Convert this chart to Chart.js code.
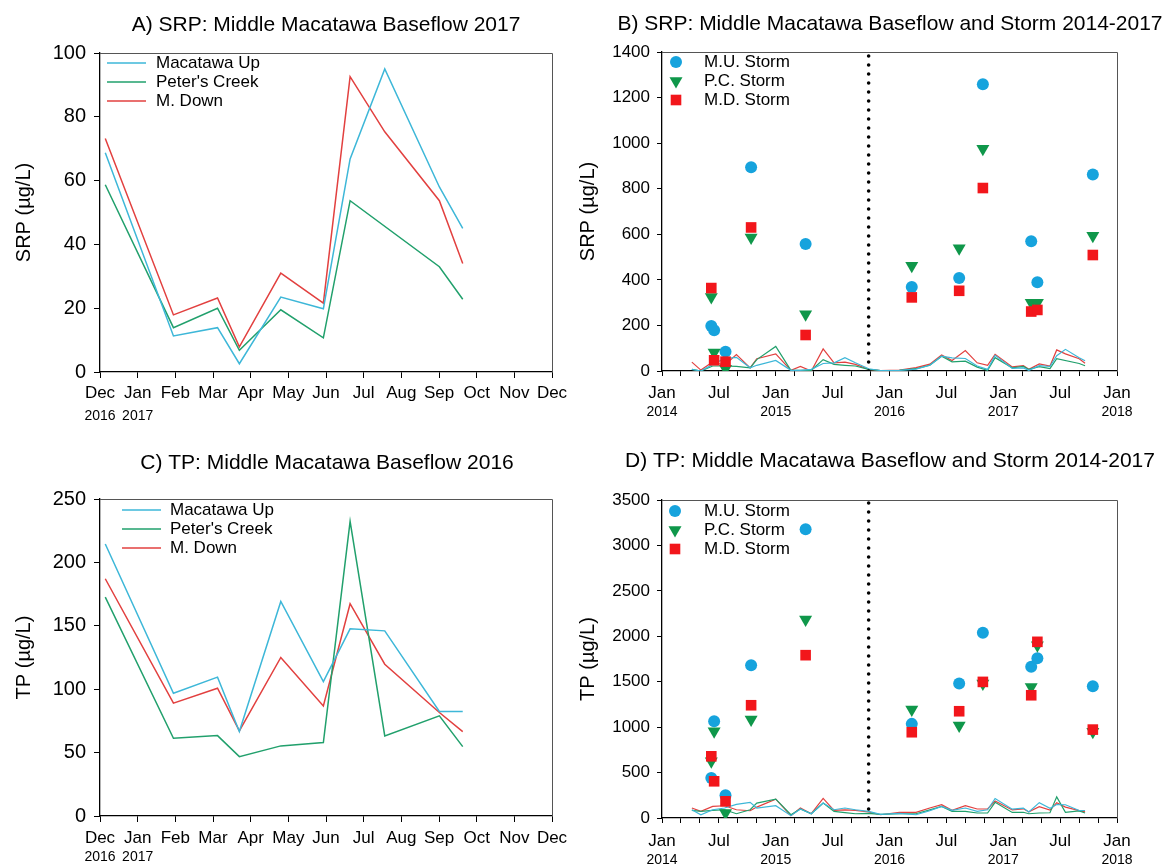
<!DOCTYPE html>
<html>
<head>
<meta charset="utf-8">
<script src="https://cdn.jsdelivr.net/npm/chart.js"></script>
<style>
  body { margin: 0; background: #fff; }
  #wrap { position: relative; width: 1169px; height: 865px; overflow: hidden; }
  canvas { position: absolute; }
</style>
</head>
<body>
<div id="wrap">
  <canvas id="chartA" width="580" height="430" style="left:0;top:0"></canvas>
  <canvas id="chartB" width="603" height="430" style="left:566px;top:0"></canvas>
  <canvas id="chartC" width="580" height="435" style="left:0;top:430px"></canvas>
  <canvas id="chartD" width="603" height="435" style="left:566px;top:430px"></canvas>
</div>
<script>
'use strict';
// colours, kept up here so they are easy to tweak
var cUp = '#3db7d8';
var cPeter = '#21a06c';
var cDown = '#e2403f';
var cMU = '#16a3dd';
var cPC = '#0f974a';
var cMD = '#f2161b';

// panels A and C: months after 1 Dec 2016
var monthLabels = ['Dec', 'Jan', 'Feb', 'Mar', 'Apr', 'May', 'Jun', 'Jul', 'Aug', 'Sep', 'Oct', 'Nov', 'Dec'];
var monthYears = ['2016', '2017'];
var baseMonths = [0.14, 1.95, 3.12, 3.7, 4.8, 5.93, 6.64, 7.56, 9.01, 9.63];
var srpUp = [68.7, 11.3, 13.9, 2.6, 23.5, 19.8, 66.8, 95.0, 58.0, 45.0];
var srpPeter = [58.7, 13.9, 20.0, 6.8, 19.5, 10.7, 53.7, null, 33.0, 22.8];
var srpDown = [73.2, 17.9, 23.2, 7.9, 31.0, 21.6, 92.6, 75.3, 53.7, 34.0];
var tpUp = [214.5, 96.8, 109.5, 66.6, 169.2, 106.0, 147.6, 146.0, 82.4, 82.4];
var tpPeter = [172.6, 61.3, 63.4, 46.8, 55.3, 57.9, 232.4, 63.2, 79.0, 54.7];
var tpDown = [187.1, 89.0, 100.8, 67.1, 125.0, 86.8, 167.4, 119.7, 81.6, 66.6];

// panels B and D: months after 1 Jan 2014
var longYears = ['2014', '2015', '2016', '2017', '2018'];
var dividerMonth = 21.8;
var stormMonths = [5.2, 5.5, 6.7, 9.4, 15.15, 26.35, 31.35, 33.85, 38.95, 39.6, 45.45];
var srpStormMU = [198, 179, 85, 894, 557, 369, 408, 1258, 569, 390, 862];
var srpStormPC = [325, 81, 10, 586, 249, 462, 539, 975, 300, 300, 594];
var srpStormMD = [364, 47, 41, 630, 158, 323, 352, 803, 261, 268, 509];
var tpStormMU = [441, 1065, 250, 1682, 3177, 1036, 1480, 2038, 1664, 1759, 1451];
var tpStormPC = [624, 955, 55, 1083, 2185, 1194, 1017, 1480, 1443, 1900, 950];
var tpStormMD = [679, 404, 184, 1241, 1792, 944, 1175, 1498, 1351, 1939, 973];

var flowMonths = [3.15, 4.1, 5.35, 6.6, 7.85, 9.3, 10.0, 12.0, 13.6, 14.6, 15.75, 17.0, 18.15, 19.3, 20.4, 21.8, 23.05, 25.05, 26.8, 28.25,
  29.5, 30.6, 32.0, 33.25, 34.35, 35.14, 36.95, 38.12, 38.7, 39.8, 40.93, 41.64, 42.56, 44.01, 44.63];
var srpFlowMU = [7, 0, 29, 55, 60, 14, 25, 46, 3, 3, 7, 33, 36, 58, 36, 10, 2, 3, 8, 25,
  65, 58, 55, 22, 7, 68.7, 11.3, 13.9, 2.6, 23.5, 19.8, 66.8, 95, 58, 45];
var srpFlowPC = [7, 0, 22, 22, 20, 14, 50, 108, 3, 3, 3, 50, 29, 25, 22, 7, 2, 3, 10, 25,
  65, 40, 43, 17, 3, 58.7, 13.9, 20, 6.8, 19.5, 10.7, 53.7, null, 33, 22.8];
var srpFlowMD = [39, 4, 40, 25, 72, 14, 54, 75, 3, 20, 0, 97, 36, 39, 29, 7, 2, 4, 15, 30,
  70, 46, 90, 36, 25, 73.2, 17.9, 23.2, 7.9, 31, 21.6, 92.6, 75.3, 53.7, 34];
var tpFlowMU = [91, 36, 91, 110, 150, 172, 110, 135, 26, 99, 47, 164, 91, 110, 91, 73, 40, 50, 36, 80,
  128, 84, 110, 73, 91, 214.5, 96.8, 109.5, 66.6, 169.2, 106, 147.6, 146, 82.4, 82.4];
var tpFlowPC = [84, 73, 84, 91, 47, 91, 164, 208, 36, 99, 47, 164, 73, 60, 47, 50, 40, 47, 47, 90,
  128, 73, 73, 55, 55, 172.6, 61.3, 63.4, 46.8, 55.3, 57.9, 232.4, 63.2, 79, 54.7];
var tpFlowMD = [110, 73, 128, 135, 91, 80, 120, 208, 26, 110, 47, 215, 84, 90, 84, 66, 36, 62, 62, 110,
  146, 84, 135, 99, 99, 187.1, 89, 100.8, 67.1, 125, 86.8, 167.4, 119.7, 81.6, 66.6];

var fam = "'Liberation Sans', Arial, sans-serif";
Chart.defaults.font.family = fam;
Chart.defaults.color = '#000';

function series(xs, ys) {
  return xs.map(function (x, i) { return {x: x, y: ys[i]}; });
}

function lineSet(label, xs, ys, color, width, row) {
  return {label: label, data: series(xs, ys), showLine: true, spanGaps: true, borderColor: color,
    backgroundColor: color, borderWidth: width, pointRadius: 0, legendRow: row, order: 5};
}

function markSet(label, xs, ys, color, style, radius, rot, row, order) {
  return {label: label, data: series(xs, ys), showLine: false, pointStyle: style, pointRadius: radius,
    pointRotation: rot, pointBackgroundColor: color, pointBorderColor: color, pointBorderWidth: 0,
    backgroundColor: color, borderColor: color, legendRow: row, order: order};
}

function divider(top) {
  return {label: 'divider', data: [{x: dividerMonth, y: 0}, {x: dividerMonth, y: top}], showLine: true,
    borderColor: '#000', borderWidth: 3.6, borderDash: [0, 9], borderCapStyle: 'round', pointRadius: 0, order: 4};
}

function axis(o) {
  return {
    type: 'linear', min: o.min, max: o.max,
    ticks: {stepSize: o.step, autoSkip: false, maxRotation: 0, minRotation: 0, padding: o.pad,
      font: {size: o.font}, color: '#000', callback: o.label},
    grid: {drawOnChartArea: false, drawTicks: true, tickLength: o.tick, color: '#000', lineWidth: 1},
    border: {display: true, color: '#000', width: 1.3},
    title: o.title ? {display: true, text: o.title, font: {size: 20}, color: '#000',
      padding: {top: o.titlePad, bottom: 0}} : {display: false},
    afterFit: function (s) {
      if (o.width) s.width = o.width;
      if (o.height) s.height = o.height;
    }
  };
}

// title, top/right frame, second row of year labels and the inside legend
var decor = {
  id: 'decor',
  afterDraw: function (chart, args, o) {
    var ctx = chart.ctx, a = chart.chartArea, xs = chart.scales.x;
    ctx.save();
    ctx.strokeStyle = '#555';
    ctx.lineWidth = 1;
    ctx.beginPath();
    ctx.moveTo(a.left, a.top + 0.5);
    ctx.lineTo(a.right + 0.5, a.top + 0.5);
    ctx.lineTo(a.right + 0.5, a.bottom);
    ctx.stroke();

    ctx.fillStyle = '#000';
    ctx.textAlign = 'center';
    ctx.textBaseline = 'middle';
    ctx.font = '21px ' + fam;
    ctx.fillText(o.title, o.titleX, o.titleY);

    ctx.font = '14px ' + fam;
    o.years.forEach(function (yr, i) {
      ctx.fillText(yr, xs.getPixelForValue(o.yearAt[i]), a.bottom + o.yearGap);
    });

    var lg = o.legend;
    ctx.font = '17px ' + fam;
    ctx.textAlign = 'left';
    chart.data.datasets.forEach(function (ds) {
      if (ds.legendRow == null) return;
      var y = lg.y + ds.legendRow * lg.rowH;
      if (ds.showLine) {
        ctx.strokeStyle = ds.borderColor;
        ctx.lineWidth = ds.borderWidth;
        ctx.beginPath();
        ctx.moveTo(lg.x, y);
        ctx.lineTo(lg.x + lg.len, y);
        ctx.stroke();
      } else {
        ctx.fillStyle = ds.pointBackgroundColor;
        Chart.helpers.drawPoint(ctx, {pointStyle: ds.pointStyle, rotation: ds.pointRotation,
          radius: ds.pointRadius, borderWidth: 0}, lg.x, y);
      }
      ctx.fillStyle = '#000';
      ctx.fillText(ds.label, lg.textX, y);
    });
    ctx.restore();
  }
};

function makePanel(id, p) {
  return new Chart(document.getElementById(id), {
    type: 'scatter',
    data: {datasets: p.datasets},
    options: {
      responsive: false,
      animation: false,
      devicePixelRatio: 1,
      events: [],
      layout: {padding: p.padding},
      scales: {x: p.x, y: p.y},
      plugins: {
        legend: {display: false},
        tooltip: {enabled: false},
        decor: {title: p.title, titleX: p.titleX, titleY: p.titleY, years: p.years, yearAt: p.yearAt,
          yearGap: p.yearGap, legend: p.legend}
      }
    },
    plugins: [decor]
  });
}

var monthTick = function (v) { return monthLabels[v]; };
var halfYearTick = function (v) { return v % 12 === 0 ? 'Jan' : (v % 12 === 6 ? 'Jul' : ''); };
var plainTick = function (v) { return String(v); };

makePanel('chartA', {
  title: 'A) SRP: Middle Macatawa Baseflow 2017', titleX: 326, titleY: 25,
  padding: {top: 53, right: 28, bottom: 0, left: 0},
  x: axis({min: 0, max: 12, step: 1, pad: 5, font: 17, tick: 6, label: monthTick, height: 58}),
  y: axis({min: 0, max: 100, step: 20, pad: 8, font: 20, tick: 6, label: plainTick, title: 'SRP (µg/L)', titlePad: 12, width: 100}),
  years: monthYears, yearAt: [0, 1], yearGap: 44,
  legend: {x: 107, len: 39, textX: 156, y: 63, rowH: 19},
  datasets: [
    lineSet('Macatawa Up', baseMonths, srpUp, cUp, 1.5, 0),
    lineSet("Peter's Creek", baseMonths, srpPeter, cPeter, 1.5, 1),
    lineSet('M. Down', baseMonths, srpDown, cDown, 1.5, 2)
  ]
});

makePanel('chartB', {
  title: 'B) SRP: Middle Macatawa Baseflow and Storm 2014-2017', titleX: 324, titleY: 24,
  padding: {top: 52, right: 52, bottom: 0, left: 0},
  x: axis({min: 0, max: 48, step: 2, pad: 7, font: 17, tick: 5, label: halfYearTick, height: 59}),
  y: axis({min: 0, max: 1400, step: 200, pad: 7, font: 17, tick: 5, label: plainTick, title: 'SRP (µg/L)', titlePad: 10, width: 96}),
  years: longYears, yearAt: [0, 12, 24, 36, 48], yearGap: 41,
  legend: {x: 110, textX: 138, y: 62, rowH: 19},
  datasets: [
    markSet('M.U. Storm', stormMonths, srpStormMU, cMU, 'circle', 6, 0, 0, 3),
    markSet('P.C. Storm', stormMonths, srpStormPC, cPC, 'triangle', 7.5, 180, 1, 2),
    markSet('M.D. Storm', stormMonths, srpStormMD, cMD, 'rect', 7.5, 0, 2, 1),
    lineSet('M.U. Baseflow', flowMonths, srpFlowMU, cUp, 1.2),
    lineSet('P.C. Baseflow', flowMonths, srpFlowPC, cPeter, 1.2),
    lineSet('M.D. Baseflow', flowMonths, srpFlowMD, cDown, 1.2),
    divider(1400)
  ]
});

makePanel('chartC', {
  title: 'C) TP: Middle Macatawa Baseflow 2016', titleX: 327, titleY: 33,
  padding: {top: 69, right: 28, bottom: 0, left: 0},
  x: axis({min: 0, max: 12, step: 1, pad: 6, font: 17, tick: 6, label: monthTick, height: 49}),
  y: axis({min: 0, max: 250, step: 50, pad: 8, font: 20, tick: 6, label: plainTick, title: 'TP (µg/L)', titlePad: 12, width: 100}),
  years: monthYears, yearAt: [0, 1], yearGap: 41,
  legend: {x: 122, len: 39, textX: 170, y: 80, rowH: 19},
  datasets: [
    lineSet('Macatawa Up', baseMonths, tpUp, cUp, 1.5, 0),
    lineSet("Peter's Creek", baseMonths, tpPeter, cPeter, 1.5, 1),
    lineSet('M. Down', baseMonths, tpDown, cDown, 1.5, 2)
  ]
});

makePanel('chartD', {
  title: 'D) TP: Middle Macatawa Baseflow and Storm 2014-2017', titleX: 324, titleY: 31,
  padding: {top: 70, right: 52, bottom: 0, left: 0},
  x: axis({min: 0, max: 48, step: 2, pad: 8, font: 17, tick: 5, label: halfYearTick, height: 47}),
  y: axis({min: 0, max: 3500, step: 500, pad: 7, font: 17, tick: 5, label: plainTick, title: 'TP (µg/L)', titlePad: 10, width: 96}),
  years: longYears, yearAt: [0, 12, 24, 36, 48], yearGap: 42,
  legend: {x: 109, textX: 138, y: 81, rowH: 19},
  datasets: [
    markSet('M.U. Storm', stormMonths, tpStormMU, cMU, 'circle', 6, 0, 0, 3),
    markSet('P.C. Storm', stormMonths, tpStormPC, cPC, 'triangle', 7.5, 180, 1, 2),
    markSet('M.D. Storm', stormMonths, tpStormMD, cMD, 'rect', 7.5, 0, 2, 1),
    lineSet('M.U. Baseflow', flowMonths, tpFlowMU, cUp, 1.2),
    lineSet('P.C. Baseflow', flowMonths, tpFlowPC, cPeter, 1.2),
    lineSet('M.D. Baseflow', flowMonths, tpFlowMD, cDown, 1.2),
    divider(3500)
  ]
});
</script>
</body>
</html>
